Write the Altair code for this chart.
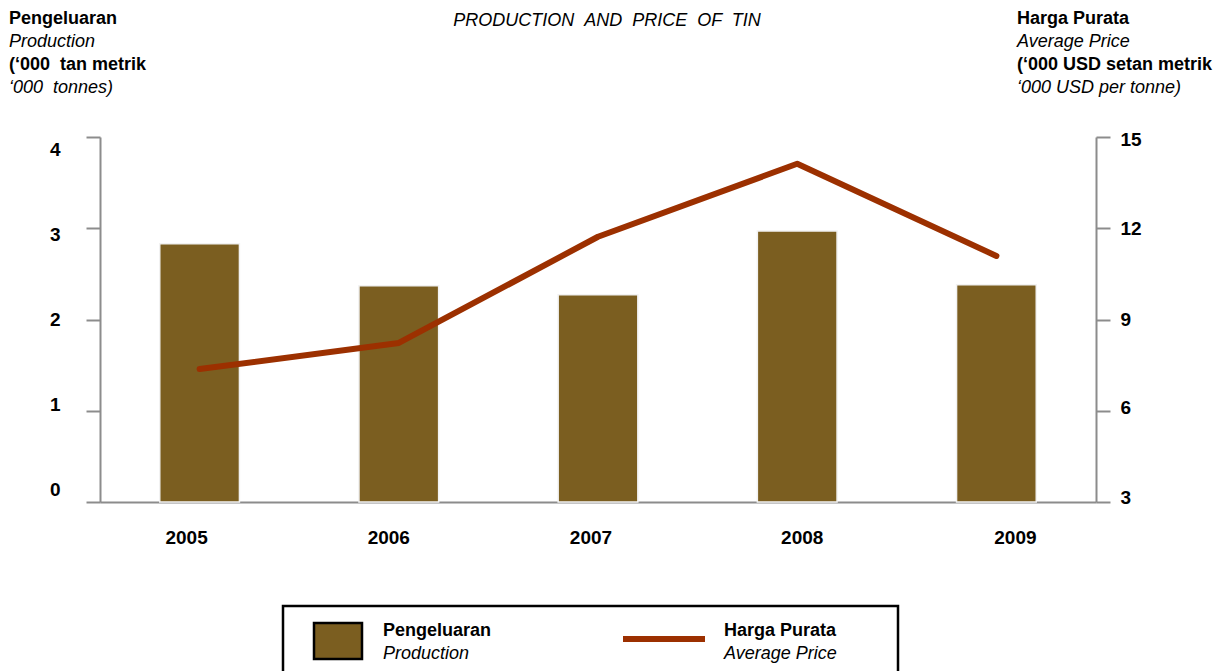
import altair as alt
import pandas as pd

# ---------------- data ----------------
years = ["2005", "2006", "2007", "2008", "2009"]
production = [2.83, 2.37, 2.27, 2.97, 2.38]          # '000 tonnes (left axis)
price = [7.37, 8.23, 11.72, 14.12, 11.09]            # '000 USD per tonne (right axis)

left_ticks = [0, 1, 2, 3, 4]
right_ticks = [3, 6, 9, 12, 15]

NB = "\u00a0"
title_text = f"PRODUCTION {NB}AND {NB}PRICE {NB}OF {NB}TIN"
left_header = ["Pengeluaran", "Production", f"(\u2018000 {NB}tan metrik", f"\u2018000 {NB}tonnes)"]
right_header = ["Harga Purata", "Average Price", "(\u2018000 USD setan metrik", "\u2018000 USD per tonne)"]
legend_bar = ["Pengeluaran", "Production"]
legend_line = ["Harga Purata", "Average Price"]

# ---------------- style ----------------
BAR = "#7B5E20"
LINE = "#9C3000"
AX = "#8C8C8C"
FONT = "Liberation Sans"
W, H = 996, 365

df = pd.DataFrame({"year": years, "production": production, "price": price})


def cond_offsets(pairs, numeric=True):
    conds = []
    for v, off in pairs:
        test = f"datum.value == {v}" if numeric else f"datum.value == '{v}'"
        conds.append({"test": test, "value": off})
    return {"condition": conds, "value": 0}


x_enc = alt.X(
    "year:N",
    sort=years,
    scale=alt.Scale(paddingInner=0.6, paddingOuter=0.3),
    axis=alt.Axis(
        title=None, labelAngle=0, ticks=False, domainColor=AX, domainWidth=2,
        labelPadding=26, labelFont=FONT, labelFontSize=19, labelFontWeight="bold",
        labelColor="black",
        labelOffset=cond_offsets([("2005", -13), ("2006", -10), ("2007", -7),
                                  ("2008", 5), ("2009", 19)], numeric=False),
    ),
)

bars = alt.Chart(df).mark_bar(color=BAR, stroke="#f2f2f2", strokeWidth=1.5).encode(
    x=x_enc,
    y=alt.Y(
        "production:Q",
        scale=alt.Scale(domain=[0, 4], nice=False, zero=True),
        axis=alt.Axis(
            title=None, values=left_ticks, grid=False, tickSize=14, tickWidth=2,
            tickColor=AX, domainColor=AX, domainWidth=2, labelPadding=26,
            labelFont=FONT, labelFontSize=19, labelFontWeight="bold",
            labelColor="black", labelBaseline="middle",
            labelOffset=cond_offsets([(4, 12.5), (3, 6.3), (1, -6.3), (0, -12.5)]),
        ),
    ),
)

line = alt.Chart(df).mark_line(
    color=LINE, strokeWidth=6, strokeCap="round", strokeJoin="round"
).encode(
    x=x_enc,
    y=alt.Y(
        "price:Q",
        scale=alt.Scale(domain=[3, 15], nice=False, zero=False),
        axis=alt.Axis(
            title=None, orient="right", values=right_ticks, grid=False, tickSize=14,
            tickWidth=2, tickColor=AX, domainColor=AX, domainWidth=2, labelPadding=10,
            labelFont=FONT, labelFontSize=19, labelFontWeight="bold",
            labelColor="black", labelBaseline="middle",
            labelOffset=cond_offsets([(15, 2), (6, -3), (3, -5)]),
        ),
    ),
)

one = alt.Data(values=[{"k": 1}])


def txt(s, x, y, bold=False, italic=False, align="left", size=18):
    kw = dict(font=FONT, fontSize=size, align=align, baseline="alphabetic", color="black")
    if bold:
        kw["fontWeight"] = "bold"
    if italic:
        kw["fontStyle"] = "italic"
    return alt.Chart(one).mark_text(**kw).encode(
        x=alt.value(x), y=alt.value(y), text=alt.value(s)
    )


deco = []
# title
deco.append(txt(title_text, 507, -111, italic=True, align="center", size=18))
# headers
base_y = [-113, -90.5, -67, -44.5]
styles = [(True, False), (False, True), (True, False), (False, True)]
for i, s in enumerate(left_header):
    deco.append(txt(s, -91, base_y[i], bold=styles[i][0], italic=styles[i][1]))
for i, s in enumerate(right_header):
    deco.append(txt(s, 917, base_y[i], bold=styles[i][0], italic=styles[i][1]))

# legend box
deco.append(
    alt.Chart(one).mark_rect(fillOpacity=0, stroke="black", strokeWidth=2.5).encode(
        x=alt.value(183), x2=alt.value(798), y=alt.value(469), y2=alt.value(560)
    )
)
# legend bar swatch
deco.append(
    alt.Chart(one).mark_rect(fill=BAR, stroke="black", strokeWidth=2.5).encode(
        x=alt.value(214), x2=alt.value(262), y=alt.value(486), y2=alt.value(522)
    )
)
# legend line swatch
deco.append(
    alt.Chart(one).mark_rule(color=LINE, strokeWidth=6).encode(
        x=alt.value(523), x2=alt.value(605), y=alt.value(502)
    )
)
deco.append(txt(legend_bar[0], 283, 499, bold=True))
deco.append(txt(legend_bar[1], 283, 522, italic=True))
deco.append(txt(legend_line[0], 624, 499, bold=True))
deco.append(txt(legend_line[1], 624, 522, italic=True))

chart = (
    alt.layer(bars, line, *deco)
    .resolve_scale(y="independent")
    .properties(
        width=W,
        height=H,
        autosize="none",
        padding={"left": 92, "top": 129, "right": 117, "bottom": 169},
        background="white",
    )
    .configure_view(stroke=None)
)

chart.save("out.html", embed_options={"renderer": "svg", "actions": False})
